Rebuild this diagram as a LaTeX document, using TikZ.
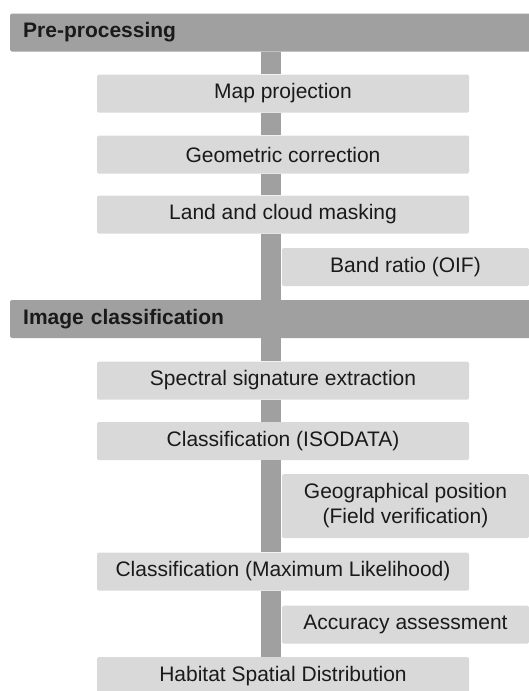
\documentclass[tikz,border=0pt]{standalone}
\usepackage{fontspec}
\setmainfont{Liberation Sans}
\usetikzlibrary{positioning}
\definecolor{headgray}{HTML}{A0A0A0}
\definecolor{boxgray}{HTML}{D9D9D9}
\definecolor{inkgray}{HTML}{1A1A1A}

\tikzset{
  phase/.style={fill=headgray, rounded corners=1.5pt, text width=505pt, align=left,
    inner xsep=13pt, inner ysep=0pt, minimum height=38pt, anchor=west,
    text=inkgray, font=\fontsize{21}{25}\selectfont\bfseries},
  stepbox/.style={fill=boxgray, rounded corners=1.5pt, minimum width=372pt,
    minimum height=38pt, inner sep=0pt, text=inkgray, font=\fontsize{21}{25}\selectfont},
  sidebox/.style={fill=boxgray, rounded corners=1.5pt, minimum width=247pt,
    minimum height=38pt, inner sep=0pt, align=center, text=inkgray,
    font=\fontsize{21}{25}\selectfont},
  spine/.style={draw=headgray, line width=20pt}
}

\begin{document}
\begin{tikzpicture}[x=1pt, y=-1pt]
\useasboundingbox (0,0) rectangle (529,691);
% nodes
\node[phase] (prep) at (10,32.5) {Pre-processing};
\node[stepbox] (map) at (283,93.5) {Map projection};
\node[stepbox] (geom) at (283,154.5) {Geometric correction};
\node[stepbox] (land) at (283,214.5) {Land and cloud masking};
\node[sidebox] (band) at (405.5,267) {Band ratio (OIF)};

\node[phase] (imgcls) at (10,319) {Image classification};
\node[stepbox] (spectral) at (283,380.5) {Spectral signature extraction};
\node[stepbox] (isodata) at (283,441) {Classification (ISODATA)};
\node[sidebox, minimum height=64pt] (geopos) at (405.5,506) {Geographical position\\(Field verification)};
\node[stepbox] (maxlik) at (283,571.5) {Classification (Maximum Likelihood)};
\node[sidebox] (accuracy) at (405.5,624.5) {Accuracy assessment};
\node[stepbox] (habitat) at (283,676) {Habitat Spatial Distribution};

% spine
\coordinate (sp) at (271,0);
\draw[spine] (sp |- prep.south) -- (sp |- map.north);
\draw[spine] (sp |- map.south) -- (sp |- geom.north);
\draw[spine] (sp |- geom.south) -- (sp |- land.north);
\draw[spine] (sp |- land.south) -- (sp |- imgcls.north);
\draw[spine] (sp |- imgcls.south) -- (sp |- spectral.north);
\draw[spine] (sp |- spectral.south) -- (sp |- isodata.north);
\draw[spine] (sp |- isodata.south) -- (sp |- maxlik.north);
\draw[spine] (sp |- maxlik.south) -- (sp |- habitat.north);

\end{tikzpicture}
\end{document}
